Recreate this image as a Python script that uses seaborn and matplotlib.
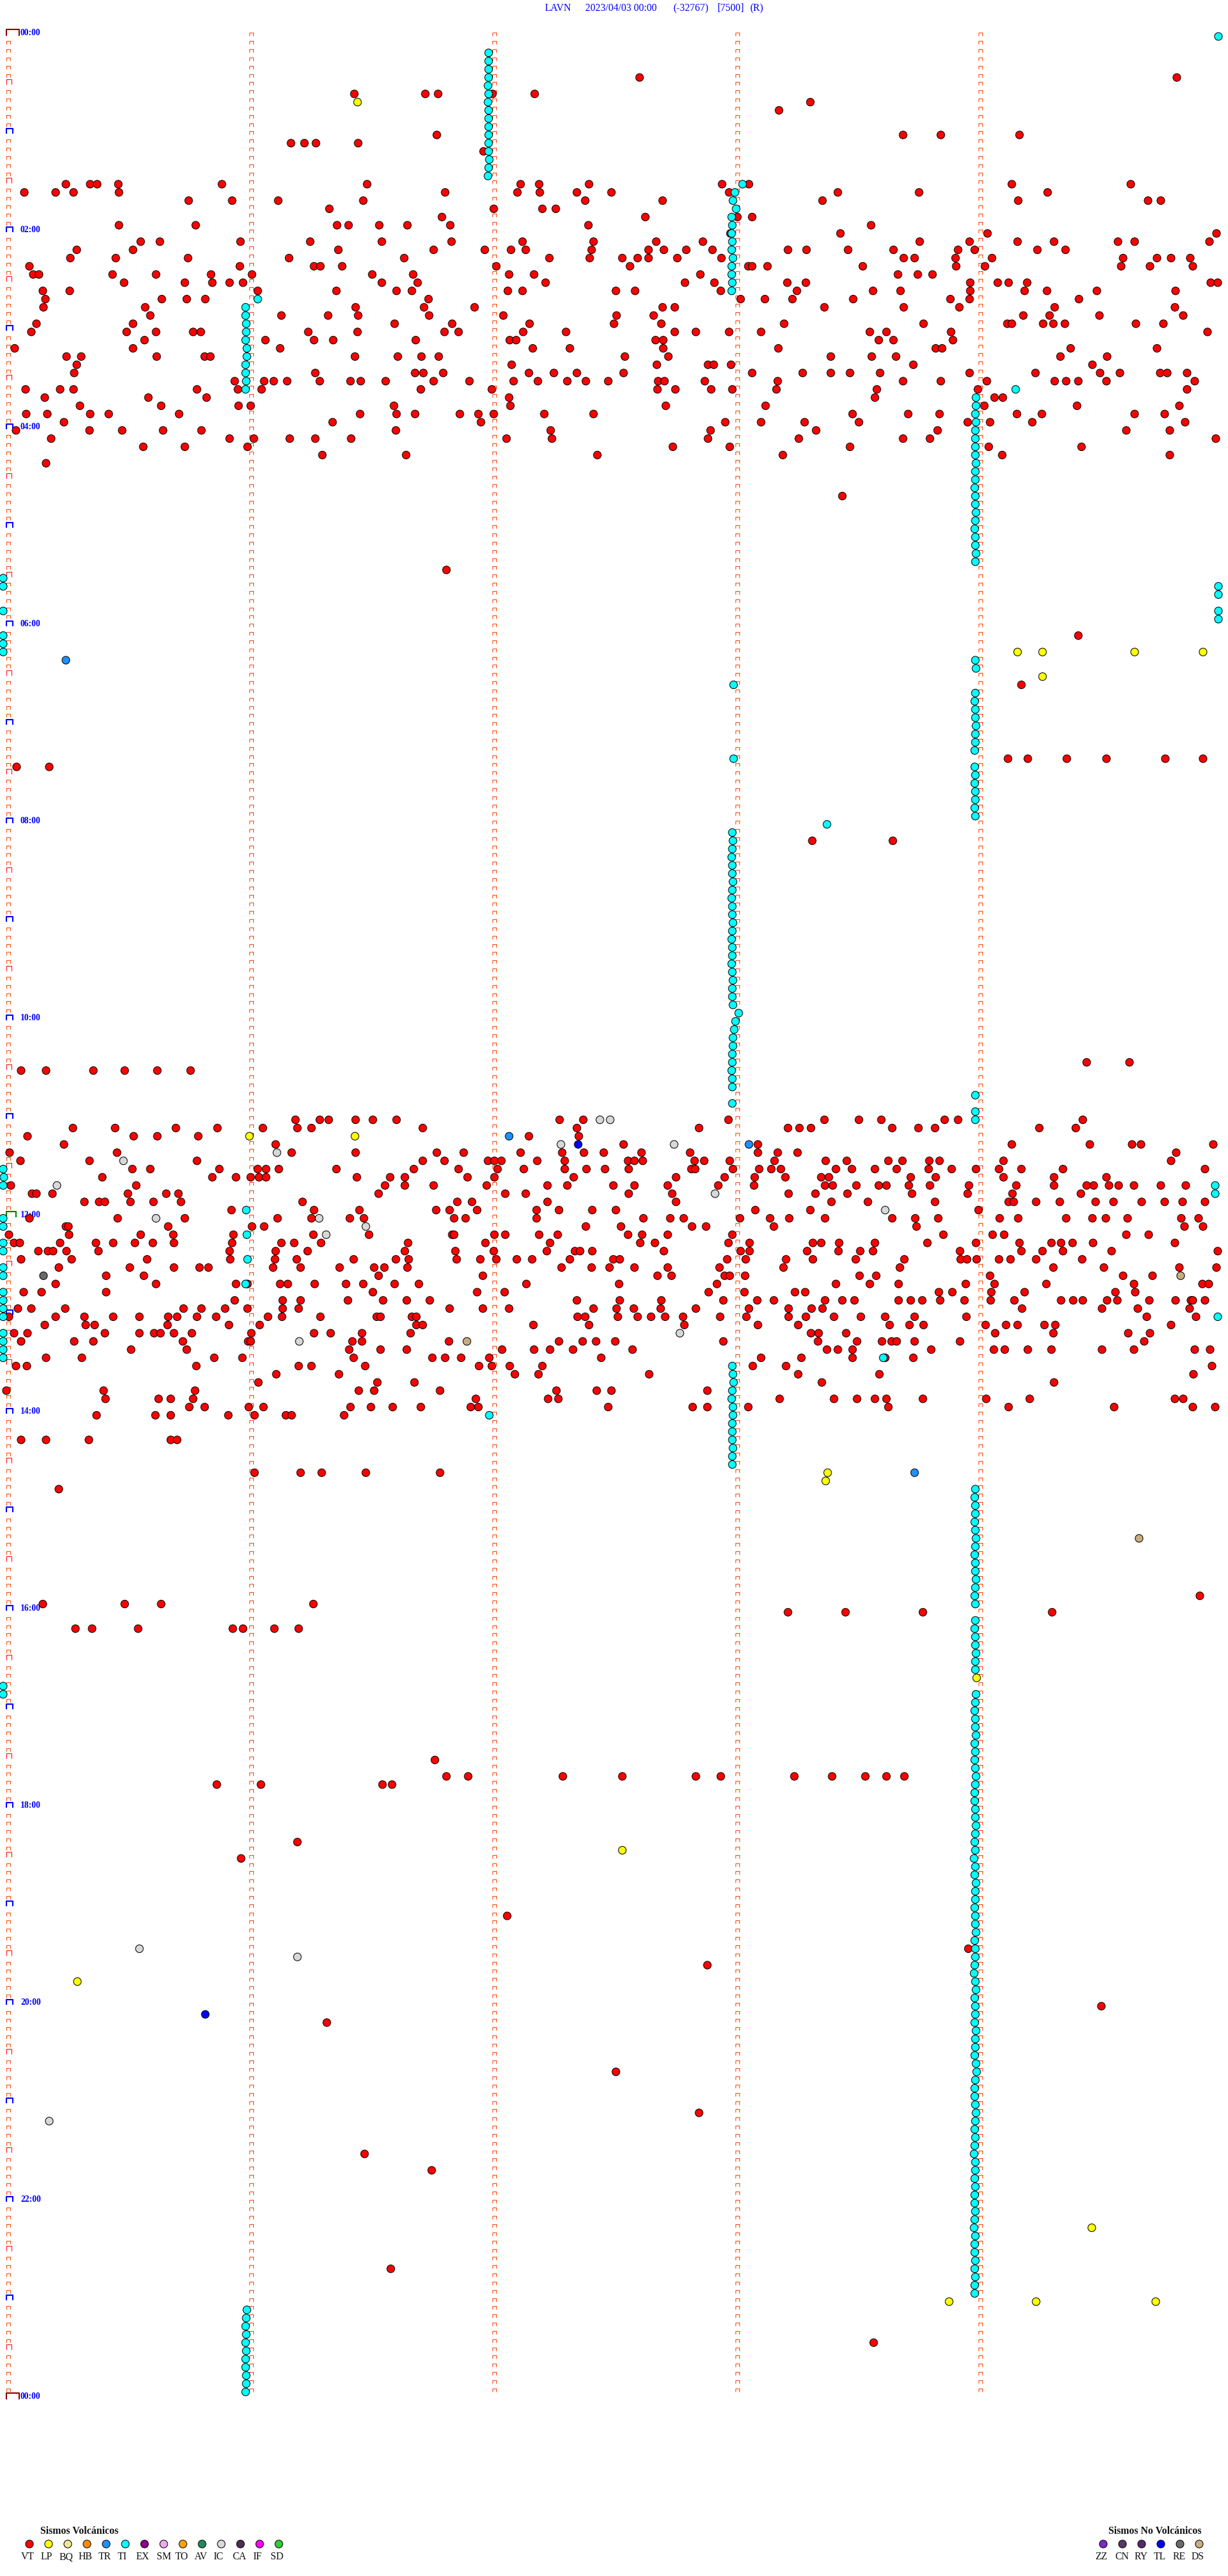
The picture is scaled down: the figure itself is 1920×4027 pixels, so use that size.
import matplotlib
matplotlib.use("Agg")
import matplotlib.pyplot as plt
import pandas as pd
import seaborn as sns
from matplotlib.path import Path

# Each entry: 5-minute line number -> positions along that line (trace samples)
vt_early = {
    5: [1000, 1840], 7: [554, 665, 685, 770, 836], 8: [1267], 9: [1218],
    12: [683, 1412, 1471, 1594], 13: [455, 476, 494, 560], 14: [756],
    18: [103, 141, 152, 185, 347, 574, 814, 843, 921, 1129, 1171, 1582, 1768],
    19: [38, 87, 115, 186, 696, 809, 844, 902, 956, 1140, 1310, 1437, 1638],
    20: [295, 363, 435, 568, 915, 1036, 1286, 1592, 1795, 1815],
    21: [515, 772, 848, 869],
    22: [691, 1009, 1153, 1176],
    23: [186, 306, 527, 545, 593, 637, 704, 920, 1362],
    24: [1142, 1314, 1544, 1902],
    25: [220, 250, 376, 485, 597, 706, 817, 928, 1026, 1099, 1438, 1516, 1591, 1648, 1748, 1774, 1891],
    26: [120, 208, 529, 678, 758, 799, 822, 925, 1014, 1038, 1073, 1114, 1232, 1261, 1326, 1397, 1498, 1524, 1622, 1666],
    27: [110, 181, 294, 452, 632, 859, 922, 973, 997, 1014, 1059, 1128, 1413, 1430, 1494, 1551, 1756, 1809, 1831, 1861],
    28: [46, 375, 491, 501, 535, 776, 985, 1170, 1176, 1200, 1349, 1495, 1540, 1753, 1798, 1865],
    29: [52, 61, 176, 244, 330, 394, 582, 646, 796, 835, 1095, 1404, 1435, 1458],
    30: [194, 289, 332, 359, 380, 597, 653, 853, 1071, 1117, 1231, 1260, 1517, 1560, 1577, 1606, 1893, 1904],
    31: [67, 109, 403, 526, 620, 644, 794, 817, 963, 993, 1127, 1246, 1365, 1408, 1517, 1602, 1637, 1715, 1838],
    32: [71, 253, 292, 321, 670, 1158, 1196, 1239, 1334, 1486, 1516, 1687],
    33: [68, 227, 556, 663, 742, 1036, 1055, 1289, 1413, 1500, 1649, 1837],
    34: [235, 440, 513, 560, 671, 787, 964, 1022, 1600, 1641, 1719, 1850],
    35: [57, 208, 617, 707, 828, 960, 1034, 1226, 1444, 1575, 1582, 1631, 1647, 1665, 1776, 1819],
    36: [49, 198, 244, 302, 314, 482, 559, 695, 717, 818, 885, 1055, 1088, 1140, 1190, 1360, 1386, 1487, 1888],
    37: [226, 415, 491, 521, 650, 797, 807, 1025, 1037, 1374, 1397, 1490],
    38: [23, 208, 438, 833, 891, 1037, 1217, 1463, 1473, 1674, 1809],
    39: [104, 127, 245, 320, 329, 555, 622, 659, 686, 977, 1045, 1299, 1363, 1401, 1658, 1731],
    40: [120, 800, 1027, 1107, 1116, 1143, 1428, 1708],
    41: [116, 493, 649, 662, 693, 827, 866, 902, 975, 1176, 1255, 1299, 1329, 1376, 1516, 1619, 1720, 1751, 1814, 1825, 1856],
    42: [367, 413, 428, 449, 500, 548, 564, 603, 678, 734, 803, 841, 887, 916, 951, 1029, 1039, 1102, 1216, 1412, 1471, 1543, 1649, 1667, 1686, 1730, 1868],
    43: [40, 94, 115, 308, 372, 409, 658, 769, 1028, 1056, 1112, 1145, 1214, 1371, 1529, 1856],
    44: [70, 232, 323, 796, 1368, 1555, 1568],
    45: [125, 252, 373, 392, 616, 798, 1041, 1197, 1539, 1684, 1844],
    46: [41, 74, 141, 170, 280, 563, 620, 649, 719, 748, 772, 851, 928, 1333, 1420, 1469, 1590, 1629, 1774, 1821],
    47: [100, 520, 752, 1134, 1190, 1258, 1343, 1513, 1548, 1614, 1853],
    48: [25, 140, 191, 255, 315, 619, 861, 1111, 1276, 1466, 1761, 1829],
    49: [80, 359, 397, 453, 493, 549, 792, 863, 1107, 1249, 1412, 1454, 1901],
    50: [224, 289, 387, 1052, 1141, 1329, 1546, 1691],
    51: [504, 635, 934, 1224, 1567, 1829],
    52: [72],
}
vt_morning = {
    56: [1317], 65: [698], 73: [1686], 79: [1597],
    88: [1576, 1607, 1668, 1730, 1822, 1881], 89: [26, 77], 98: [1270, 1396],
    125: [1699, 1766], 126: [33, 72, 146, 195, 246, 298],
}
vt_midday = {
    132: [462, 500, 514, 556, 583, 620, 875, 912, 1139, 1289, 1343, 1378, 1477, 1498, 1693],
    133: [114, 180, 275, 340, 411, 465, 487, 661, 902, 1093, 1232, 1250, 1268, 1395, 1436, 1462, 1625, 1682],
    134: [43, 209, 246, 310, 827, 905],
    135: [100, 431, 975, 1185, 1582, 1704, 1770, 1784, 1897],
    136: [15, 183, 456, 556, 683, 725, 814, 879, 913, 944, 1003, 1079, 1185, 1216, 1247, 1839],
    137: [32, 140, 308, 661, 695, 763, 773, 784, 840, 883, 982, 992, 1005, 1086, 1101, 1141, 1211, 1291, 1324, 1389, 1411, 1453, 1469, 1569, 1831],
    138: [207, 235, 343, 403, 416, 436, 526, 647, 717, 778, 819, 883, 917, 946, 983, 1081, 1087, 1146, 1187, 1206, 1221, 1307, 1332, 1368, 1402, 1452, 1488, 1526, 1562, 1597, 1662, 1884],
    139: [160, 332, 369, 392, 405, 416, 558, 610, 633, 731, 773, 897, 1057, 1133, 1180, 1228, 1284, 1296, 1424, 1463, 1569, 1648, 1730],
    140: [17, 213, 602, 633, 678, 761, 856, 887, 959, 992, 1044, 1123, 1179, 1290, 1302, 1339, 1374, 1386, 1421, 1454, 1515, 1589, 1648, 1699, 1710, 1734, 1749, 1773, 1815, 1854],
    141: [50, 57, 82, 200, 260, 279, 592, 790, 822, 983, 1051, 1233, 1275, 1325, 1426, 1513, 1583, 1690],
    142: [132, 155, 164, 204, 240, 283, 473, 715, 738, 856, 1057, 1300, 1357, 1462, 1577, 1585, 1620, 1657, 1713, 1741, 1785, 1821, 1849, 1884],
    143: [362, 491, 562, 682, 703, 746, 839, 874, 926, 963, 1181, 1267, 1530],
    144: [46, 184, 289, 434, 487, 547, 569, 710, 728, 839, 1006, 1048, 1069, 1157, 1204, 1234, 1290, 1395, 1431, 1467, 1563, 1592, 1667, 1708, 1729, 1763, 1847, 1874],
    145: [103, 107, 263, 394, 413, 916, 971, 1082, 1104, 1210, 1433, 1852, 1881],
    146: [14, 108, 220, 271, 365, 490, 577, 707, 710, 773, 790, 843, 872, 982, 1004, 1044, 1145, 1475, 1552, 1570, 1761, 1796],
    147: [22, 31, 94, 150, 177, 211, 239, 272, 363, 440, 460, 502, 638, 759, 860, 1001, 1024, 1139, 1172, 1271, 1284, 1312, 1368, 1450, 1526, 1594, 1644, 1659, 1677, 1709, 1837],
    148: [60, 75, 83, 104, 154, 359, 431, 481, 633, 712, 772, 855, 899, 907, 926, 1038, 1158, 1172, 1262, 1311, 1345, 1365, 1501, 1597, 1630, 1662, 1738, 1904],
    149: [33, 112, 230, 360, 430, 464, 553, 619, 639, 714, 751, 776, 808, 832, 891, 959, 969, 1137, 1166, 1229, 1271, 1338, 1414, 1502, 1512, 1527, 1562, 1580, 1620, 1692],
    150: [92, 203, 272, 312, 326, 427, 470, 531, 585, 601, 637, 878, 925, 953, 992, 1044, 1125, 1225, 1407, 1647, 1726, 1844, 1902],
    151: [166, 225, 592, 755, 1028, 1050, 1133, 1141, 1165, 1344, 1370, 1548, 1756, 1802],
    152: [87, 244, 369, 387, 438, 450, 492, 541, 568, 617, 655, 823, 968, 1121, 1307, 1360, 1405, 1510, 1555, 1636, 1773, 1880, 1890],
    153: [37, 65, 166, 583, 746, 789, 1108, 1164, 1243, 1259, 1468, 1489, 1550, 1602, 1744, 1775],
    154: [367, 442, 470, 544, 599, 636, 672, 902, 969, 1034, 1131, 1184, 1210, 1290, 1317, 1336, 1405, 1424, 1442, 1470, 1508, 1549, 1586, 1659, 1678, 1693, 1731, 1747, 1797, 1838, 1862, 1865, 1884],
    155: [28, 49, 102, 287, 315, 352, 387, 442, 467, 703, 755, 796, 928, 964, 991, 1033, 1088, 1171, 1233, 1269, 1286, 1598, 1723, 1779, 1860],
    156: [14, 87, 132, 177, 218, 263, 277, 308, 338, 419, 441, 501, 589, 595, 644, 651, 903, 915, 966, 997, 1018, 1040, 1068, 1126, 1167, 1233, 1260, 1304, 1346, 1384, 1430, 1511, 1793, 1870],
    157: [70, 134, 148, 262, 358, 406, 651, 661, 834, 921, 1070, 1185, 1248, 1391, 1422, 1444, 1541, 1573, 1591, 1633, 1650, 1831],
    158: [22, 43, 164, 218, 241, 251, 272, 300, 393, 491, 517, 566, 642, 1268, 1280, 1323, 1556, 1647, 1764, 1798],
    159: [33, 116, 146, 286, 388, 392, 551, 566, 702, 874, 911, 932, 962, 1131, 1279, 1340, 1379, 1394, 1402, 1430, 1501, 1789],
    160: [205, 292, 546, 595, 636, 785, 835, 860, 896, 989, 1293, 1310, 1333, 1456, 1554, 1571, 1607, 1644, 1723, 1773, 1868, 1892],
    161: [72, 128, 335, 379, 553, 676, 696, 721, 765, 940, 1190, 1253, 1333, 1384, 1428],
    162: [25, 42, 307, 467, 487, 571, 749, 769, 797, 848, 1177, 1229, 1895],
    163: [432, 530, 805, 842, 1015, 1248, 1375, 1866],
    164: [404, 590, 648, 1285, 1648],
    165: [10, 162, 305, 561, 585, 688, 870, 933, 956, 1106],
    166: [165, 248, 267, 302, 744, 857, 873, 1219, 1304, 1340, 1368, 1386, 1443, 1542, 1610, 1837, 1850],
    167: [296, 320, 389, 412, 548, 580, 614, 658, 736, 748, 951, 1083, 1106, 1170, 1389, 1577, 1742, 1865, 1900],
    168: [151, 243, 267, 357, 398, 447, 456, 538],
    171: [33, 72, 139, 267, 277],
}
vt_late = {
    175: [398, 470, 503, 572, 688], 177: [92], 190: [1876],
    191: [67, 195, 252, 490], 192: [1232, 1322, 1443, 1645],
    194: [118, 144, 216, 364, 380, 429, 467], 210: [680],
    212: [698, 732, 880, 973, 1088, 1127, 1242, 1301, 1353, 1386, 1414],
    213: [339, 408, 598, 613], 220: [465], 222: [377], 229: [793], 233: [1514],
    235: [1106], 240: [1722], 242: [511], 248: [963], 253: [1093], 258: [570],
    260: [675], 272: [611], 281: [1366],
}
lp_events = {8: [559], 75: [1591, 1630, 1774, 1881], 78: [1630], 134: [390, 555], 175: [1294],
             176: [1291], 200: [1527], 221: [973], 237: [121], 267: [1707], 276: [1484, 1620, 1807]}
tr_events = {76: [103], 134: [796], 135: [1171], 175: [1430]}
ic_events = {132: [938, 954], 135: [877, 1054], 136: [433], 137: [193], 140: [89], 141: [1118],
             143: [1384], 144: [244, 499], 145: [572], 146: [510], 158: [1063], 159: [468],
             233: [218], 234: [465], 254: [77]}
tl_events = {135: [904], 241: [321]}
re_events = {151: [68]}
ds_events = {151: [1846], 159: [730], 183: [1781]}
ti_single = {0: [1905], 32: [403], 43: [1588], 67: [5, 1905], 66: [5], 68: [1905], 70: [5, 1905], 71: [1905],
             73: [5], 74: [5], 75: [5], 79: [1147], 88: [1147], 96: [1293], 130: [1145], 129: [1525],
             131: [1525], 132: [1525], 138: [5], 139: [6], 140: [5, 1900], 141: [1900], 143: [385],
             144: [5], 145: [5], 146: [386], 147: [5], 148: [5], 149: [387], 150: [5], 151: [5],
             152: [384], 153: [5], 154: [5], 155: [5], 156: [5, 1904], 158: [5], 159: [5], 160: [5],
             161: [5, 1381], 168: [765], 201: [5], 202: [5]}
# Stacked TI runs: first line number and the position on each following line
ti_run_a = (2, [764, 764, 764, 764, 763, 764, 763, 764, 764, 764, 764, 764, 764, 765, 764, 763])
ti_run_b = (18, [1161, 1149, 1146, 1151, 1144, 1145, 1144, 1145, 1144, 1146, 1144, 1144, 1145, 1144])
ti_run_c = (33, [384, 384, 385, 385, 384, 386, 386, 384, 384, 385, 384])
ti_run_d = (44, [1526, 1526, 1525, 1526, 1525, 1525, 1525, 1525, 1526, 1525, 1525, 1524, 1525, 1525, 1526, 1525, 1524, 1525, 1525, 1526, 1525])
ti_run_e = (76, [1525, 1526])
ti_run_f = (80, [1525, 1524, 1525, 1525, 1526, 1525, 1525, 1524])
ti_run_g = (89, [1524, 1525, 1524, 1525, 1525, 1524, 1525])
ti_run_h = (97, [1145, 1146, 1145, 1144, 1145, 1145, 1146, 1145, 1144, 1145, 1145, 1146, 1145, 1144, 1145, 1145, 1144, 1145, 1146, 1145, 1145, 1146,
                 1155, 1150, 1148, 1146, 1146, 1145, 1145, 1144, 1145, 1145])
ti_run_i = (162, [1145, 1146, 1147, 1145, 1144, 1146, 1146, 1145, 1145, 1145, 1146, 1145, 1145])
ti_run_j = (177, [1525, 1524, 1525, 1525, 1524, 1525, 1526, 1525, 1524, 1525, 1525, 1526, 1525, 1524, 1525])
ti_run_k = (193, [1525, 1524, 1525, 1525, 1526, 1525, 1525])
ti_run_l = (202, [1526, 1525, 1524, 1525, 1525, 1526, 1524, 1525, 1524, 1525, 1526, 1525, 1524, 1524, 1525, 1525,
                  1526, 1525, 1524, 1525, 1523, 1525, 1524, 1526, 1525, 1525, 1524, 1525, 1525, 1526, 1524, 1525,
                  1525, 1524, 1523, 1525, 1526, 1524, 1525, 1525, 1524, 1526, 1525, 1525, 1524, 1526, 1527, 1525,
                  1524, 1524, 1525, 1526, 1525, 1524, 1525, 1524, 1523, 1525, 1525, 1524, 1525, 1524, 1524, 1525,
                  1524, 1523, 1525, 1524, 1524, 1525, 1524, 1525, 1524, 1524])
ti_run_m = (277, [386, 385, 384, 385, 384, 385, 384, 384, 385, 385, 384])

volcanic_codes = ["VT", "LP", "BQ", "HB", "TR", "TI", "EX", "SM", "TO", "AV", "IC", "CA", "IF", "SD"]
volcanic_colors = ["#FF0000", "#FFFF00", "#F0E68C", "#FF8C00", "#1E90FF", "#00FFFF", "#8B008B",
                   "#EEAAEE", "#FFA500", "#1F8A60", "#D8D8D8", "#4B2D5A", "#FF00FF", "#32CD32"]
other_codes = ["ZZ", "CN", "RY", "TL", "RE", "DS"]
other_colors = ["#7B2CC0", "#553A66", "#552D66", "#0000FF", "#6A6A6A", "#C8AD7F"]
hour_labels = ["00:00", "02:00", "04:00", "06:00", "08:00", "10:00", "12:00", "14:00",
               "16:00", "18:00", "20:00", "22:00", "00:00"]
minute_lines = [13, 393, 773, 1153, 1533]

FW, FH = 1920, 4027
ROW0, ROWH = 57.0, 12.83
HOOK_SHIFT = -3.0 / ROWH
MARK_S = 76


def to_row(py):
    return (py - ROW0) / ROWH


records = []
for code, table in [("VT", vt_early), ("VT", vt_morning), ("VT", vt_midday), ("VT", vt_late)]:
    for row, xs in table.items():
        records += [(code, x, row) for x in xs]
for code, table in [("LP", lp_events), ("TR", tr_events), ("IC", ic_events), ("TL", tl_events),
                    ("RE", re_events), ("DS", ds_events), ("TI", ti_single)]:
    for row, xs in table.items():
        records += [(code, x, row) for x in xs]
for first, xs in [ti_run_a, ti_run_b, ti_run_c, ti_run_d, ti_run_e, ti_run_f, ti_run_g, ti_run_h,
                  ti_run_i, ti_run_j, ti_run_k, ti_run_l, ti_run_m]:
    records += [("TI", x, first + i) for i, x in enumerate(xs)]
events = pd.DataFrame(records, columns=["code", "pos", "row"])
palette = dict(zip(volcanic_codes + other_codes, volcanic_colors + other_colors))

sns.set_theme(style="white")
plt.rcParams["font.family"] = ["Liberation Serif", "DejaVu Serif"]

fig = plt.figure(figsize=(FW / 100, FH / 100), dpi=100, facecolor="white")
ax = fig.add_axes([0, 0, 1, 1])


def frame():
    ax.set_xlim(0, FW)
    ax.set_ylim(to_row(FH), to_row(0))
    ax.axis("off")


def hook(w, h):
    """Open-bottom bracket; matplotlib rescales custom paths so the largest coordinate is 0.5."""
    ratio = h / w
    return Path([(-0.5, -ratio / 2), (-0.5, ratio / 2), (0.5, ratio / 2), (0.5, -ratio / 2)],
                [Path.MOVETO, Path.LINETO, Path.LINETO, Path.LINETO])


frame()
small_hook = hook(6, 5)
for col in minute_lines:
    rows = [r for r in range(288) if col != minute_lines[0] or r % 6 != 0]
    ax.scatter([col] * len(rows), [r + HOOK_SHIFT for r in rows], marker=small_hook, s=(6 * 0.72) ** 2,
               facecolors="none", edgecolors="#FF4500", linewidths=0.75, zorder=1)

for r in range(0, 289, 6):
    if r in (0, 288):
        w, h, c, lw = 20, 10, "#8B0000", 1.5
    elif r == 144:
        w, h, c, lw = 15, 9, "#008000", 1.5
    elif r % 12 == 0:
        w, h, c, lw = 10, 8, "#0000FF", 1.5
    else:
        w, h, c, lw = 8, 8, "#FF0000", 0.75
    ax.scatter([10 + w / 2], [r + HOOK_SHIFT - 3.0 / ROWH], marker=hook(w, h), s=(w * 0.72) ** 2,
               facecolors="none", edgecolors=c, linewidths=lw, zorder=1)

for i, lab in enumerate(hour_labels):
    ax.text(32, i * 24 + HOOK_SHIFT - 2.5 / ROWH, lab, color="#0000FF", fontsize=9.8, fontweight="bold",
            ha="left", va="center", zorder=1)

sns.scatterplot(data=events, x="pos", y="row", hue="code", palette=palette, s=MARK_S, edgecolor="black",
                linewidth=0.75, legend=False, ax=ax, zorder=3, clip_on=True)
frame()

# Header pieces
for xpos, piece in [(852, "LAVN"), (915, "2023/04/03 00:00"), (1052, "(-32767)"), (1122, "[7500]"), (1172, "(R)")]:
    ax.text(xpos, to_row(13), piece, color="#0000FF", fontsize=11.3, ha="left", va="center")

# Legends
key_left = pd.DataFrame({"code": volcanic_codes, "pos": [46 + 30 * i for i in range(14)], "row": to_row(3977)})
key_right = pd.DataFrame({"code": other_codes, "pos": [1725 + 30 * i for i in range(6)], "row": to_row(3977)})
for key in (key_left, key_right):
    sns.scatterplot(data=key, x="pos", y="row", hue="code", palette=palette, s=MARK_S, edgecolor="black",
                    linewidth=0.75, legend=False, ax=ax, zorder=3)
frame()
label_left = [43, 73, 104, 134, 164, 191, 223, 256, 284, 314, 341, 374, 402, 433]
label_right = [1722, 1754, 1784, 1813, 1844, 1873]
for xpos, code in zip(label_left + label_right, volcanic_codes + other_codes):
    ax.text(xpos, to_row(3997), code, color="#111111", fontsize=11.3, ha="center", va="center")
ax.text(63, to_row(3957), "Sismos Volcánicos", color="#111111", fontsize=11.4, fontweight="bold", ha="left", va="center")
ax.text(1733, to_row(3957), "Sismos No Volcánicos", color="#111111", fontsize=11.4, fontweight="bold", ha="left", va="center")

fig.savefig("out.png", dpi=100, facecolor="white")
